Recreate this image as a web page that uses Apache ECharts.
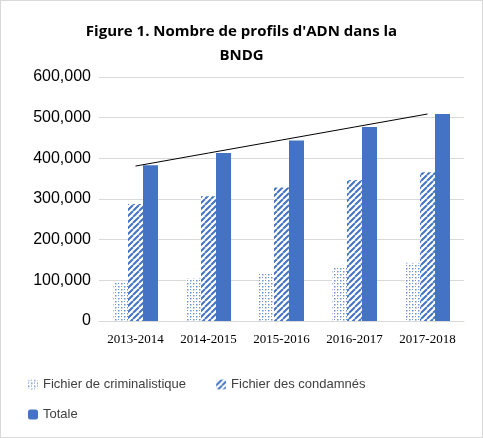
<!DOCTYPE html><html><head><meta charset="utf-8">
<script src="https://cdn.jsdelivr.net/npm/echarts@6/dist/echarts.min.js"></script>
<style>html,body{margin:0;padding:0;background:#fff}#c{position:absolute;left:0;top:0;width:481px;height:436px;border:1px solid #d9d9d9}</style>
</head><body><div id="c"></div><script>
const categories=['2013-2014','2014-2015','2015-2016','2016-2017','2017-2018'];
const criminalistique=[95000,105000,116000,131000,143000];
const condamnes=[288000,307000,328000,347000,366000];
const totale=[383000,413000,444000,477000,509000];
const tendance=[381000,413000,445000,477000,509000];
function pat(type){const c=document.createElement('canvas');c.width=c.height=6;const g=c.getContext('2d');g.fillStyle='#fff';g.fillRect(0,0,6,6);
 if(type==='dots'){g.fillStyle='#6f95cf';g.fillRect(0,0,1.5,1.5);g.fillRect(3,3,1.5,1.5);g.fillRect(0,3,1,1);g.fillRect(3,0,1,1);}
 else{g.strokeStyle='#4472c4';g.lineWidth=2;g.beginPath();for(let k=-6;k<=12;k+=6){g.moveTo(k,6);g.lineTo(k+6,0);}g.stroke();}
 return {image:c,repeat:'repeat'};}
const ch=echarts.init(document.getElementById('c'));
ch.setOption({animation:false,
title:{text:"Figure 1. Nombre de profils d'ADN dans la\nBNDG",left:'center',top:14,textStyle:{fontFamily:'Open Sans',fontSize:15,fontWeight:'bold',color:'#000',lineHeight:24}},
grid:{left:98,right:18,top:76,bottom:116},
legend:[{data:['Fichier de criminalistique','Fichier des condamnés'],left:22,top:372,itemWidth:10,itemHeight:10,itemGap:30,textStyle:{fontFamily:'Liberation Sans',fontSize:13,color:'#404040'}},
{data:['Totale'],left:22,top:402,itemWidth:10,itemHeight:10,textStyle:{fontFamily:'Liberation Sans',fontSize:13,color:'#404040'}}],
xAxis:{type:'category',data:categories,axisLine:{lineStyle:{color:'#d9d9d9'}},axisTick:{show:false},axisLabel:{interval:0,fontFamily:'Liberation Sans Narrow',fontSize:13,color:'#000',margin:12}},
yAxis:{type:'value',min:0,max:600000,interval:100000,axisLabel:{fontFamily:'Liberation Sans',fontSize:16,color:'#000',formatter:v=>v.toLocaleString('en-US')},splitLine:{lineStyle:{color:'#d9d9d9'}}},
series:[
{name:'Fichier de criminalistique',type:'bar',data:criminalistique,barWidth:15,barGap:'0%',itemStyle:{color:pat('dots')}},
{name:'Fichier des condamnés',type:'bar',data:condamnes,barWidth:15,barGap:'0%',itemStyle:{color:pat('stripes')}},
{name:'Totale',type:'bar',data:totale,barWidth:15,barGap:'0%',itemStyle:{color:'#4472c4'}},
{name:'Tendance',type:'line',data:tendance,symbol:'none',lineStyle:{color:'#000',width:1},z:5}
]});
</script></body></html>
